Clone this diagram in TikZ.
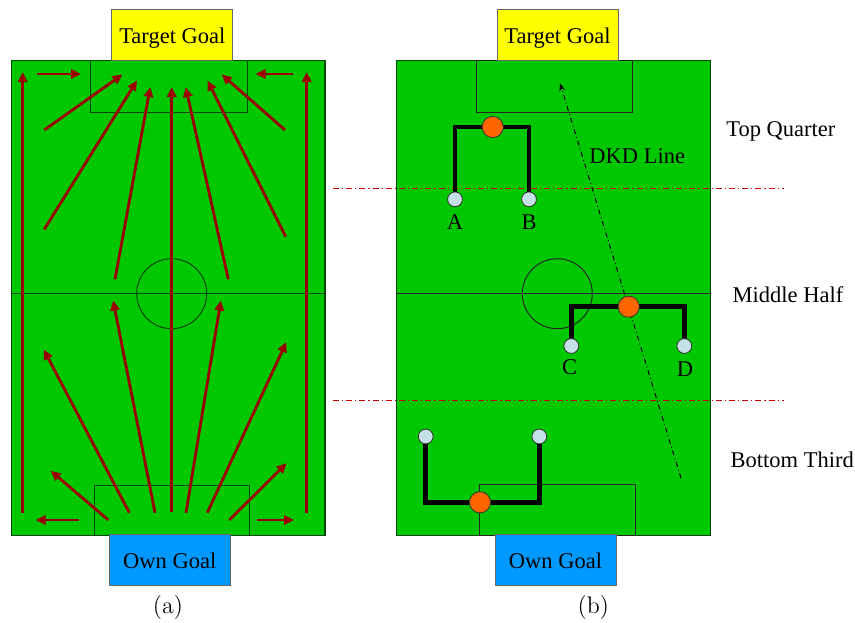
\documentclass[tikz,border=0pt]{standalone}
\usepackage{fontspec}
\newfontfamily\tnr{Liberation Serif}
\usetikzlibrary{arrows.meta}
\definecolor{fieldgreen}{RGB}{0,200,0}
\definecolor{linegreen}{RGB}{0,70,0}
\definecolor{arrred}{RGB}{155,0,0}
\definecolor{dashred}{RGB}{200,0,0}
\definecolor{goalyellow}{RGB}{255,255,0}
\definecolor{goalblue}{RGB}{0,153,255}
\definecolor{ballorange}{RGB}{255,102,0}
\definecolor{balllight}{RGB}{195,225,230}
\tikzset{
  field/.style={fill=fieldgreen,draw=linegreen,line width=0.6pt},
  fline/.style={draw=linegreen,line width=0.5pt},
  goalbox/.style={draw=black!60,line width=0.5pt,minimum width=60.5pt,minimum height=25.5pt,inner sep=0pt,text height=8.6pt,text depth=0pt,font=\tnr\fontsize{11.25}{13}\selectfont},
  arr/.style={draw=arrred,line width=1.4pt,-{Triangle[length=5pt,width=4.6pt]}},
  lbl/.style={font=\tnr\fontsize{11.25}{13}\selectfont,anchor=base,inner sep=0pt},
  sub/.style={font=\fontsize{12}{14}\selectfont,anchor=base,inner sep=0pt},
  zone/.style={draw=dashred,line width=0.5pt,dash pattern=on 3pt off 1.5pt on 0.6pt off 1.5pt},
  bracket/.style={draw=black,line width=2.3pt,line join=miter,line cap=rect},
  oball/.style={circle,fill=ballorange,draw=black!80,line width=0.4pt,minimum size=10.6pt,inner sep=0pt},
  lball/.style={circle,fill=balllight,draw=black!80,line width=0.4pt,minimum size=7.4pt,inner sep=0pt},
  dkd/.style={draw=black,line width=0.5pt,dash pattern=on 2.5pt off 1.5pt on 0.5pt off 1.5pt,-{Stealth[length=4pt,width=3pt]}}
}
\begin{document}
\begin{tikzpicture}[x=0.5pt,y=-0.5pt]
\useasboundingbox (0,0) rectangle (855,622);

% ---------- field (a) ----------
\draw[field] (11.5,60.7) rectangle (325,535.7);
\draw[fline] (11.5,293.7) -- (325,293.7);
\draw[fline] (171.7,293.7) circle[radius=35];
\draw[fline] (90.7,60.7) rectangle (247.3,112);
\draw[fline] (94,485) rectangle (249.7,535.7);
\node[goalbox,fill=goalyellow] (tga) at (172.3,35.3) {Target Goal};
\node[goalbox,fill=goalblue] (oga) at (169.8,560) {Own Goal};
\node[sub] (la) at (168,613) {(a)};

% arrow end points (a)
\coordinate (v1s) at (22.7,513); \coordinate (v1e) at (22.7,72);
\coordinate (v2s) at (306.7,513); \coordinate (v2e) at (306.7,72);
\coordinate (h1s) at (36.7,74); \coordinate (h1e) at (81,74);
\coordinate (h2s) at (292.7,74); \coordinate (h2e) at (255.5,74);
\coordinate (t1s) at (44.3,130); \coordinate (t1e) at (122.5,74.5);
\coordinate (t2s) at (44.3,229.3); \coordinate (t2e) at (137,80.5);
\coordinate (t3s) at (115,279.3); \coordinate (t3e) at (150.3,87);
\coordinate (cs) at (171.7,511.7); \coordinate (ce) at (171.7,87);
\coordinate (t4s) at (228.3,279.3); \coordinate (t4e) at (185.7,87);
\coordinate (t5s) at (285.7,236.7); \coordinate (t5e) at (207.5,80.5);
\coordinate (t6s) at (285,130); \coordinate (t6e) at (221.7,74.5);
\coordinate (h3s) at (79.3,520); \coordinate (h3e) at (35.5,520);
\coordinate (h4s) at (257.3,520); \coordinate (h4e) at (294,520);
\coordinate (b1s) at (108.3,520); \coordinate (b1e) at (50.7,470.8);
\coordinate (b2s) at (129.3,512.7); \coordinate (b2e) at (43.7,349.5);
\coordinate (b3s) at (155,512.7); \coordinate (b3e) at (113.1,300.5);
\coordinate (b4s) at (186,512.7); \coordinate (b4e) at (220.9,300.5);
\coordinate (b5s) at (207.3,512.7); \coordinate (b5e) at (286.3,342.2);
\coordinate (b6s) at (229.3,520); \coordinate (b6e) at (286.6,463.2);
\foreach \p in {v1,v2,h1,h2,t1,t2,t3,c,t4,t5,t6,h3,h4,b1,b2,b3,b4,b5,b6}
  \draw[arr] (\p s) -- (\p e);

% ---------- field (b) ----------
\draw[field] (396.7,60.7) rectangle (710.7,535.7);
\draw[fline,draw=black!85] (396.7,293.7) -- (710.7,293.7);
\draw[fline,draw=black!85] (557.3,293.7) circle[radius=35];
\draw[fline,draw=black!85] (476.3,60.7) rectangle (632.3,112);
\draw[fline,draw=black!85] (479.3,484.3) rectangle (635.7,535.7);
\node[goalbox,fill=goalyellow] (tgb) at (557.5,35.3) {Target Goal};
\node[goalbox,fill=goalblue] (ogb) at (555.5,560) {Own Goal};
\node[sub] (lb) at (593.3,613) {(b)};

% zone lines
\coordinate (z1s) at (333,188); \coordinate (z1e) at (784,188);
\coordinate (z2s) at (333,400); \coordinate (z2e) at (784,400);
\draw[zone] (z1s) -- (z1e);
\draw[zone] (z2s) -- (z2e);

% DKD line
\coordinate (dks) at (681,478.3); \coordinate (dke) at (560,83.3);
\draw[dkd] (dks) -- (dke);
\node[lbl] (dkdl) at (637.2,163.3) {DKD Line};

% zone labels
\node[lbl] (tq) at (780.8,136) {Top Quarter};
\node[lbl] (mh) at (788,302) {Middle Half};
\node[lbl] (bt) at (792.2,467.7) {Bottom Third};

% players
\coordinate (pA) at (455,199.3); \coordinate (pB) at (529,199.3); \coordinate (pO1) at (492.7,127);
\coordinate (pC) at (571.3,346); \coordinate (pD) at (684.3,346); \coordinate (pO2) at (628.7,306.7);
\coordinate (pE) at (425.7,436.5); \coordinate (pF) at (539.3,436.5); \coordinate (pO3) at (480,502.3);
\draw[bracket] (pA) |- (pO1) -| (pB);
\draw[bracket] (pC) |- (pO2) -| (pD);
\draw[bracket] (pE) |- (pO3) -| (pF);
\node[lball] (A) at (pA) {};
\node[lball] (B) at (pB) {};
\node[oball] (O1) at (pO1) {};
\node[lball] (C) at (pC) {};
\node[lball] (D) at (pD) {};
\node[oball] (O2) at (pO2) {};
\node[lball] (E) at (pE) {};
\node[lball] (F) at (pF) {};
\node[oball] (O3) at (pO3) {};
\node[lbl] (lA) at (455,229.3) {A};
\node[lbl] (lB) at (529,229.3) {B};
\node[lbl] (lC) at (569.7,374) {C};
\node[lbl] (lD) at (685,376) {D};
\end{tikzpicture}
\end{document}
